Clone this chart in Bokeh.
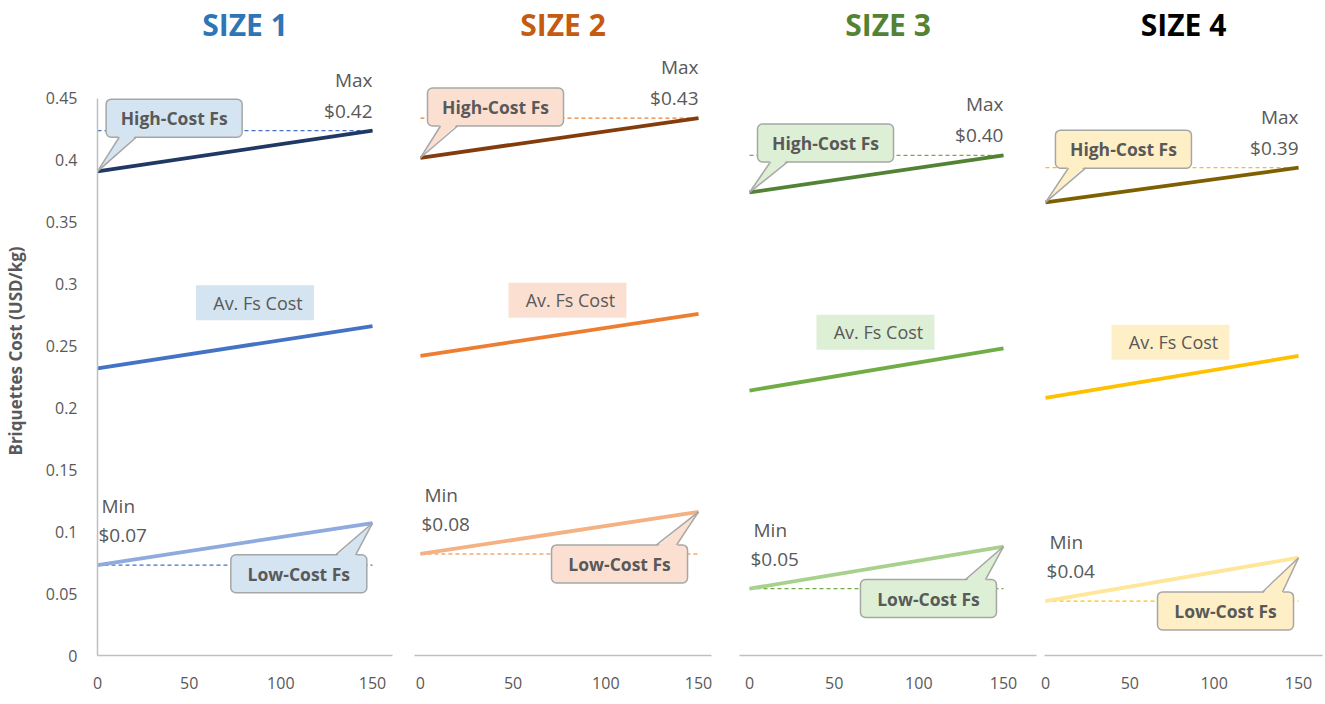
from bokeh.plotting import figure
from bokeh.layouts import row
from bokeh.models import Range1d, FixedTicker, Title
from bokeh.core.properties import value
from bokeh.embed import file_html
from bokeh.resources import INLINE

# ---- data -------------------------------------------------------------
sizes = ["SIZE 1", "SIZE 2", "SIZE 3", "SIZE 4"]
x_share = [0, 150]                       # two end points of each cost line
high_cost = [[0.391, 0.424], [0.402, 0.434], [0.374, 0.404], [0.366, 0.394]]
avg_cost = [[0.232, 0.266], [0.242, 0.276], [0.214, 0.248], [0.208, 0.242]]
low_cost = [[0.073, 0.107], [0.082, 0.116], [0.054, 0.088], [0.044, 0.079]]
x_ticks = [0, 50, 100, 150]
y_ticks = [0, 0.05, 0.1, 0.15, 0.2, 0.25, 0.3, 0.35, 0.4, 0.45]
y_tick_labels = ["0", "0.05", "0.1", "0.15", "0.2", "0.25", "0.3", "0.35", "0.4", "0.45"]
y_title = "Briquettes Cost (USD/kg)"

# ---- styling ----------------------------------------------------------
title_colors = ["#2E75B6", "#C55A11", "#548235", "#000000"]
high_colors = ["#1F3864", "#843C0C", "#548235", "#7F6000"]
avg_colors = ["#4472C4", "#ED7D31", "#70AD47", "#FFC000"]
low_colors = ["#8FAADC", "#F4B183", "#A9D18E", "#FFE699"]
box_fills = ["#D5E4F1", "#FBE0D2", "#DDEFD5", "#FFEFC6"]
TEXT = "#595959"
AXIS = "#BFBFBF"
FONT_NAME = "Open Sans"
FONT = value(FONT_NAME)

# panel geometry: figure width, left/right border, x range
panel_w = [403, 322, 315, 285]
border_l = [96, 11, 14, 4]
border_r = [11, 14, 4, 3]
x_start = [0.0, -3.2, -5.9, -0.6]
x_end = [160.9, 157.0, 169.5, 164.2]
H = 700
TOP, BOTTOM = 45, 45
Y_END = 0.4919

# annotation anchors (data units) per panel
high_box = [(41.8, 0.434), (40.5, 0.443), (44.9, 0.414), (46.2, 0.409)]
low_box = [(109.8, 0.066), (107.4, 0.074), (105.7, 0.046), (106.7, 0.036)]
avg_box = [(85.9, 0.285), (79.3, 0.287), (74.4, 0.261), (74.1, 0.253)]

figs = []
for i in range(4):
    fw = panel_w[i] - border_l[i] - border_r[i]
    fh = H - TOP - BOTTOM
    pxx = fw / (x_end[i] - x_start[i])      # pixels per x unit
    pxy = fh / Y_END                          # pixels per y unit

    p = figure(width=panel_w[i], height=H, output_backend="svg",
               toolbar_location=None,
               x_range=Range1d(x_start[i], x_end[i]),
               y_range=Range1d(0, Y_END),
               y_axis_location="left" if i == 0 else None,
               min_border_left=border_l[i], min_border_right=border_r[i],
               min_border_top=TOP, min_border_bottom=BOTTOM)
    p.title = Title(text=sizes[i], align="center", text_font=FONT_NAME,
                    text_font_size="30px", text_font_style="bold",
                    text_color=title_colors[i], standoff=3, offset=0)
    p.outline_line_color = None
    p.grid.visible = False
    p.background_fill_color = "white"
    p.border_fill_color = "white"

    xa = p.xaxis[0]
    xa.ticker = FixedTicker(ticks=x_ticks)
    xa.axis_line_color = AXIS
    xa.axis_line_width = 1.5
    xa.major_tick_line_color = None
    xa.minor_tick_line_color = None
    xa.major_tick_out = 0
    xa.major_label_standoff = 21
    xa.major_label_text_font = FONT_NAME
    xa.major_label_text_font_size = "16px"
    xa.major_label_text_color = TEXT

    if i == 0:
        ya = p.yaxis[0]
        ya.ticker = FixedTicker(ticks=y_ticks)
        ya.major_label_overrides = {t: s for t, s in zip(y_ticks, y_tick_labels)}
        ya.bounds = (0, 0.45)
        ya.axis_line_color = AXIS
        ya.axis_line_width = 1.5
        ya.major_tick_line_color = None
        ya.minor_tick_line_color = None
        ya.major_tick_out = 0
        ya.major_label_standoff = 20
        ya.major_label_text_font = FONT_NAME
        ya.major_label_text_font_size = "16px"
        ya.major_label_text_color = TEXT
        ya.axis_label = y_title
        ya.axis_label_text_font = FONT_NAME
        ya.axis_label_text_font_size = "17px"
        ya.axis_label_text_font_style = "bold"
        ya.axis_label_text_color = TEXT
        ya.axis_label_standoff = 16

    hi, av, lo = high_cost[i], avg_cost[i], low_cost[i]
    hi_max, lo_min = max(hi), min(lo)

    # dashed reference lines at the max and min values
    p.line(x_share, [hi_max, hi_max], line_color=avg_colors[i], line_width=1.2,
           line_dash="4 3")
    p.line(x_share, [lo_min, lo_min], line_color=avg_colors[i], line_width=1.2,
           line_dash="4 3")

    # the three cost lines
    p.line(x_share, hi, line_color=high_colors[i], line_width=3.8)
    p.line(x_share, av, line_color=avg_colors[i], line_width=3.8)
    p.line(x_share, lo, line_color=low_colors[i], line_width=3.8)

    # Max / Min value labels
    x_hi_end = x_share[hi.index(hi_max)]
    x_lo_start = x_share[lo.index(lo_min)]
    p.text([x_hi_end], [hi_max], text=[f"${hi_max:.2f}"], text_align="right",
           text_baseline="bottom", y_offset=-7, text_font=FONT,
           text_font_size="19px", text_color=TEXT)
    p.text([x_hi_end], [hi_max], text=["Max"], text_align="right",
           text_baseline="bottom", y_offset=-38, text_font=FONT,
           text_font_size="19px", text_color=TEXT)
    p.text([x_lo_start], [lo_min], text=[f"${lo_min:.2f}"], text_align="left",
           text_baseline="bottom", x_offset=1, y_offset=-17, text_font=FONT,
           text_font_size="19px", text_color=TEXT)
    p.text([x_lo_start], [lo_min], text=["Min"], text_align="left",
           text_baseline="bottom", x_offset=4, y_offset=-46, text_font=FONT,
           text_font_size="19px", text_color=TEXT)

    # average label box
    ax, ay = avg_box[i]
    p.rect([ax], [ay], width=118, height=35, width_units="screen",
           height_units="screen", fill_color=box_fills[i], line_color=None)
    p.text([ax], [ay], text=["Av. Fs Cost"], text_align="center",
           text_baseline="middle", x_offset=3, text_font=FONT,
           text_font_size="18px", text_color=TEXT)

    # callouts with pointers
    BW, BH = 136, 38
    for (cx, cy), label, kind in ((high_box[i], "High-Cost Fs", "high"),
                                  (low_box[i], "Low-Cost Fs", "low")):
        p.rect([cx], [cy], width=BW, height=BH, width_units="screen",
               height_units="screen", fill_color=box_fills[i],
               line_color="#A6A6A6", line_width=1.5, border_radius=5)
        if kind == "high":
            edge = cy - (BH / 2) / pxy
            inner = edge + 2 / pxy
            left = cx - (BW / 2) / pxx
            b1, b2 = left + 13 / pxx, left + 30 / pxx
            tip = (x_share[0], hi[0])
        else:
            edge = cy + (BH / 2) / pxy
            inner = edge - 2 / pxy
            right = cx + (BW / 2) / pxx
            b1, b2 = right - 31 / pxx, right - 11 / pxx
            tip = (x_share[1], lo[1])
        p.patch([b1, b2, tip[0]], [inner, inner, tip[1]],
                fill_color=box_fills[i], line_color=None)
        p.multi_line([[b1, tip[0]], [b2, tip[0]]], [[edge, tip[1]], [edge, tip[1]]],
                     line_color="#A6A6A6", line_width=1.5)
        p.text([cx], [cy], text=[label], text_align="center",
               text_baseline="middle", text_font=FONT, text_font_size="17.5px",
               text_font_style="bold", text_color=TEXT)

    figs.append(p)

layout = row(*figs, spacing=0)
open("out.html", "w").write(file_html(layout, INLINE))
